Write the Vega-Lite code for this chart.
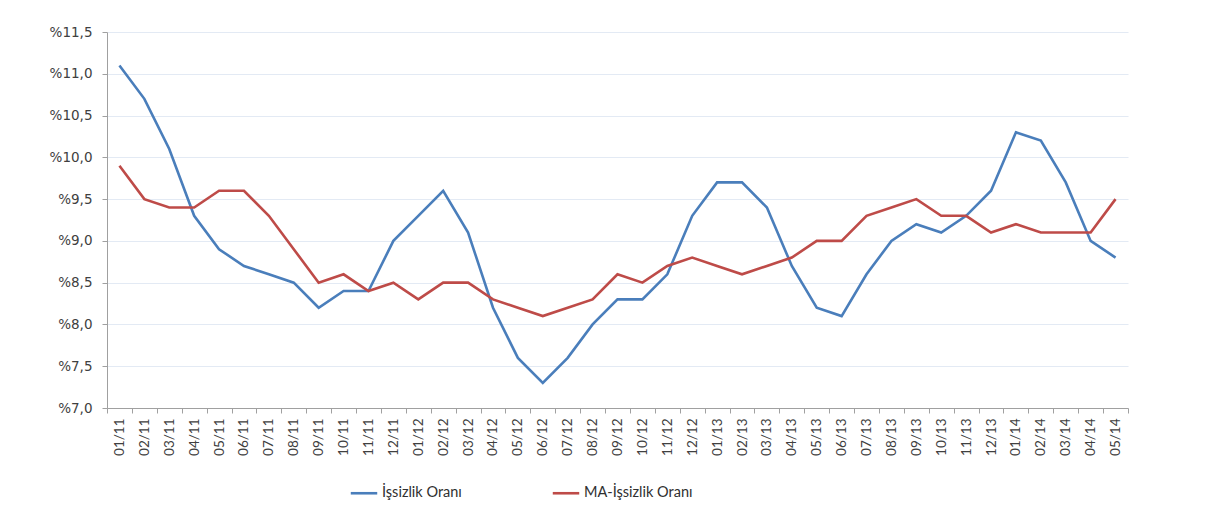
{
  "$schema": "https://vega.github.io/schema/vega-lite/v6.json",
  "width": 1021,
  "height": 376,
  "autosize": {"type": "none"},
  "padding": {"left": 107, "top": 32, "right": 84, "bottom": 106},
  "background": "white",
  "data": {
    "values": [
      {"m": "01/11", "İşsizlik Oranı": 11.1, "MA-İşsizlik Oranı": 9.9},
      {"m": "02/11", "İşsizlik Oranı": 10.7, "MA-İşsizlik Oranı": 9.5},
      {"m": "03/11", "İşsizlik Oranı": 10.1, "MA-İşsizlik Oranı": 9.4},
      {"m": "04/11", "İşsizlik Oranı": 9.3, "MA-İşsizlik Oranı": 9.4},
      {"m": "05/11", "İşsizlik Oranı": 8.9, "MA-İşsizlik Oranı": 9.6},
      {"m": "06/11", "İşsizlik Oranı": 8.7, "MA-İşsizlik Oranı": 9.6},
      {"m": "07/11", "İşsizlik Oranı": 8.6, "MA-İşsizlik Oranı": 9.3},
      {"m": "08/11", "İşsizlik Oranı": 8.5, "MA-İşsizlik Oranı": 8.9},
      {"m": "09/11", "İşsizlik Oranı": 8.2, "MA-İşsizlik Oranı": 8.5},
      {"m": "10/11", "İşsizlik Oranı": 8.4, "MA-İşsizlik Oranı": 8.6},
      {"m": "11/11", "İşsizlik Oranı": 8.4, "MA-İşsizlik Oranı": 8.4},
      {"m": "12/11", "İşsizlik Oranı": 9.0, "MA-İşsizlik Oranı": 8.5},
      {"m": "01/12", "İşsizlik Oranı": 9.3, "MA-İşsizlik Oranı": 8.3},
      {"m": "02/12", "İşsizlik Oranı": 9.6, "MA-İşsizlik Oranı": 8.5},
      {"m": "03/12", "İşsizlik Oranı": 9.1, "MA-İşsizlik Oranı": 8.5},
      {"m": "04/12", "İşsizlik Oranı": 8.2, "MA-İşsizlik Oranı": 8.3},
      {"m": "05/12", "İşsizlik Oranı": 7.6, "MA-İşsizlik Oranı": 8.2},
      {"m": "06/12", "İşsizlik Oranı": 7.3, "MA-İşsizlik Oranı": 8.1},
      {"m": "07/12", "İşsizlik Oranı": 7.6, "MA-İşsizlik Oranı": 8.2},
      {"m": "08/12", "İşsizlik Oranı": 8.0, "MA-İşsizlik Oranı": 8.3},
      {"m": "09/12", "İşsizlik Oranı": 8.3, "MA-İşsizlik Oranı": 8.6},
      {"m": "10/12", "İşsizlik Oranı": 8.3, "MA-İşsizlik Oranı": 8.5},
      {"m": "11/12", "İşsizlik Oranı": 8.6, "MA-İşsizlik Oranı": 8.7},
      {"m": "12/12", "İşsizlik Oranı": 9.3, "MA-İşsizlik Oranı": 8.8},
      {"m": "01/13", "İşsizlik Oranı": 9.7, "MA-İşsizlik Oranı": 8.7},
      {"m": "02/13", "İşsizlik Oranı": 9.7, "MA-İşsizlik Oranı": 8.6},
      {"m": "03/13", "İşsizlik Oranı": 9.4, "MA-İşsizlik Oranı": 8.7},
      {"m": "04/13", "İşsizlik Oranı": 8.7, "MA-İşsizlik Oranı": 8.8},
      {"m": "05/13", "İşsizlik Oranı": 8.2, "MA-İşsizlik Oranı": 9.0},
      {"m": "06/13", "İşsizlik Oranı": 8.1, "MA-İşsizlik Oranı": 9.0},
      {"m": "07/13", "İşsizlik Oranı": 8.6, "MA-İşsizlik Oranı": 9.3},
      {"m": "08/13", "İşsizlik Oranı": 9.0, "MA-İşsizlik Oranı": 9.4},
      {"m": "09/13", "İşsizlik Oranı": 9.2, "MA-İşsizlik Oranı": 9.5},
      {"m": "10/13", "İşsizlik Oranı": 9.1, "MA-İşsizlik Oranı": 9.3},
      {"m": "11/13", "İşsizlik Oranı": 9.3, "MA-İşsizlik Oranı": 9.3},
      {"m": "12/13", "İşsizlik Oranı": 9.6, "MA-İşsizlik Oranı": 9.1},
      {"m": "01/14", "İşsizlik Oranı": 10.3, "MA-İşsizlik Oranı": 9.2},
      {"m": "02/14", "İşsizlik Oranı": 10.2, "MA-İşsizlik Oranı": 9.1},
      {"m": "03/14", "İşsizlik Oranı": 9.7, "MA-İşsizlik Oranı": 9.1},
      {"m": "04/14", "İşsizlik Oranı": 9.0, "MA-İşsizlik Oranı": 9.1},
      {"m": "05/14", "İşsizlik Oranı": 8.8, "MA-İşsizlik Oranı": 9.5}
    ]
  },
  "transform": [
    {"fold": ["İşsizlik Oranı", "MA-İşsizlik Oranı"], "as": ["seri", "deger"]}
  ],
  "mark": {"type": "line", "strokeWidth": 2.6, "strokeJoin": "miter"},
  "encoding": {
    "x": {
      "field": "m",
      "type": "ordinal",
      "sort": null,
      "bandPosition": 0.5,
      "scale": {"type": "band", "paddingInner": 0, "paddingOuter": 0},
      "axis": {
        "title": null,
        "labelAngle": -90,
        "labelAlign": "right",
        "labelBaseline": "middle",
        "labelFont": "Lato",
        "labelFontSize": 13.5,
        "labelColor": "#404040",
        "labelPadding": 5,
        "tickBand": "extent",
        "tickSize": 5,
        "tickColor": "#a0a0a0",
        "domainColor": "#a0a0a0",
        "grid": false
      }
    },
    "y": {
      "field": "deger",
      "type": "quantitative",
      "scale": {"domain": [7, 11.5], "nice": false, "zero": false},
      "axis": {
        "title": null,
        "values": [7, 7.5, 8, 8.5, 9, 9.5, 10, 10.5, 11, 11.5],
        "labelExpr": "'%' + replace(format(datum.value, '.1f'), '.', ',')",
        "labelFont": "DejaVu Sans",
        "labelFontSize": 13.5,
        "labelColor": "#404040",
        "labelPadding": 10,
        "tickSize": 5,
        "tickColor": "#a0a0a0",
        "domainColor": "#a0a0a0",
        "gridColor": "#e3eaf4",
        "gridWidth": 1.2
      }
    },
    "color": {
      "field": "seri",
      "type": "nominal",
      "scale": {
        "domain": ["İşsizlik Oranı", "MA-İşsizlik Oranı"],
        "range": ["#4a7ebb", "#be4b48"]
      },
      "legend": {
        "title": null,
        "orient": "none",
        "direction": "horizontal",
        "legendX": 242,
        "legendY": 446,
        "symbolType": "stroke",
        "symbolSize": 700,
        "symbolStrokeWidth": 2.6,
        "labelFont": "Lato",
        "labelFontSize": 14.5,
        "labelColor": "#303030",
        "labelOffset": 3,
        "columnPadding": 85
      }
    }
  },
  "config": {"view": {"stroke": null}}
}
